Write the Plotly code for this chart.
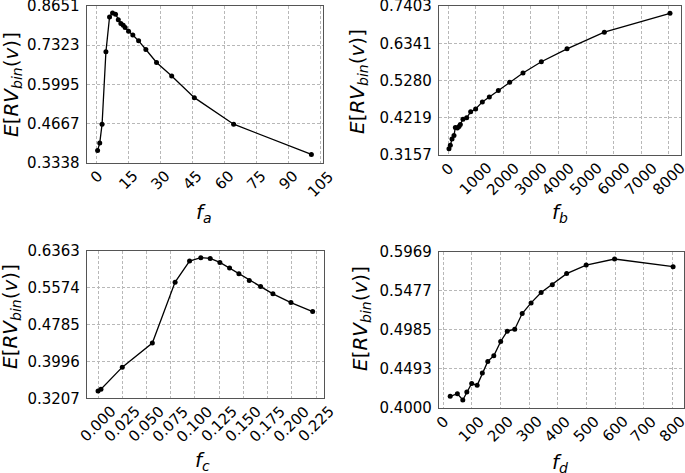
import plotly.graph_objects as go

# ---- data ----
fa = [0.5, 1.5, 2.6, 4.4, 6.1, 7.5, 8.9, 10.2, 11.4, 12.5, 13.4, 15.0, 17.0, 19.7, 23.1, 28.1, 35.2, 45.8, 64.2, 100.6]
ea = [0.3754, 0.4002, 0.4644, 0.7098, 0.8280, 0.8415, 0.8370, 0.8189, 0.8054, 0.7998, 0.7920, 0.7796, 0.7670, 0.7470, 0.7176, 0.6737, 0.6276, 0.5544, 0.4644, 0.3619]

fb = [36, 85, 145, 217, 266, 338, 399, 447, 543, 676, 821, 1002, 1244, 1498, 1824, 2234, 2717, 3382, 4312, 5664, 8043]
eb = [0.3337, 0.3431, 0.3611, 0.3715, 0.3942, 0.3923, 0.3970, 0.4027, 0.4178, 0.4216, 0.4386, 0.4471, 0.4670, 0.4812, 0.4992, 0.5228, 0.5493, 0.5814, 0.6183, 0.6656, 0.7195]

fc = [0.0, 0.003, 0.025, 0.056, 0.0795, 0.0944, 0.106, 0.1157, 0.1257, 0.1357, 0.1453, 0.156, 0.1677, 0.1804, 0.199, 0.2214]
ec = [0.3365, 0.3401, 0.3874, 0.4390, 0.5696, 0.6148, 0.6220, 0.6205, 0.6119, 0.5997, 0.5875, 0.5732, 0.5603, 0.5445, 0.5258, 0.5065]

fd = [25, 50, 69, 83, 100, 119, 137, 156, 177, 201, 224, 250, 276, 307, 342, 381, 431, 499, 598, 802]
ed = [0.4147, 0.4180, 0.4101, 0.4201, 0.4310, 0.4285, 0.4440, 0.4587, 0.4658, 0.4838, 0.4968, 0.4993, 0.5190, 0.5324, 0.5454, 0.5554, 0.5693, 0.5801, 0.5877, 0.5780]

yticks_a = [0.3338, 0.4667, 0.5995, 0.7323, 0.8651]
yticks_b = [0.3157, 0.4219, 0.5280, 0.6341, 0.7403]
yticks_c = [0.3207, 0.3996, 0.4785, 0.5574, 0.6363]
yticks_d = [0.4000, 0.4493, 0.4985, 0.5477, 0.5969]

xticks_a = [0, 15, 30, 45, 60, 75, 90, 105]
xticks_b = [0, 1000, 2000, 3000, 4000, 5000, 6000, 7000, 8000]
xticks_c = [0.000, 0.025, 0.050, 0.075, 0.100, 0.125, 0.150, 0.175, 0.200, 0.225]
xticks_d = [0, 100, 200, 300, 400, 500, 600, 700, 800]

xlabels = ["a", "b", "c", "d"]

W, H = 685, 473
FONT = "DejaVu Sans"
TICKSIZE = 15

panels = [
    # (x, y, xticks, xfmt, yticks, xrange, px-box (l, r, t, b))
    (fa, ea, xticks_a, "{:d}", yticks_a, [-4.6, 105.9], (86.7, 322.7, 6, 162.7)),
    (fb, eb, xticks_b, "{:d}", yticks_b, [-326, 8442], (439, 681, 6, 155)),
    (fc, ec, xticks_c, "{:.3f}", yticks_c, [-0.0114, 0.2331], (87, 324, 251, 398.3)),
    (fd, ed, xticks_d, "{:d}", yticks_d, [-14, 840], (439, 684, 251.7, 408)),
]

fig = go.Figure()
layout = {}
ann = []
for i, (xs, ys, xt, fmt, yt, xr, box) in enumerate(panels):
    n = "" if i == 0 else str(i + 1)
    l, r, t, b = box
    fig.add_trace(go.Scatter(
        x=xs, y=ys, mode="lines+markers",
        line=dict(color="black", width=1.3),
        marker=dict(color="black", size=5),
        xaxis="x" + n, yaxis="y" + n, showlegend=False, hoverinfo="skip",
    ))
    span = yt[-1] - yt[0]
    common = dict(
        showline=True, mirror=True, linecolor="#555555", linewidth=1.2,
        showgrid=True, gridcolor="#b8b8b8", gridwidth=0.8, griddash="3px,2px",
        zeroline=False, ticks="", automargin=False, ticklabeloverflow="allow",
        tickfont=dict(family=FONT, size=TICKSIZE, color="black"),
    )
    layout["xaxis" + n] = dict(
        common, domain=[l / W, r / W], anchor="y" + n, range=xr,
        tickmode="array", tickvals=xt, showticklabels=False,
    )
    layout["yaxis" + n] = dict(
        common, domain=[1 - b / H, 1 - t / H], anchor="x" + n,
        range=[yt[0] - span * 1e-4, yt[-1] + span * 1e-4],
        tickmode="array", tickvals=yt, ticktext=["{:.4f}".format(v) for v in yt],
        ticklabelstandoff=3,
    )
    # rotated x tick labels, centred on each tick like matplotlib's rotation=45
    for v in xt:
        ann.append(dict(text=fmt.format(v), x=v, xref="x" + n,
                        y=1 - (b + 3) / H, yref="paper",
                        showarrow=False, textangle=-45, xanchor="center", yanchor="top",
                        borderpad=0,
                        font=dict(family=FONT, size=TICKSIZE, color="black")))

ytitle = "<i>E</i>[<i>RV</i><sub><i>bin</i></sub>(<i>v</i>)]"
ytitle_pos = [(12, 85), (358, 82), (11, 317), (361, 318)]
xtitle_pos = [(204, 213), (560, 213), (202, 461), (560, 463)]
for (xp, yp), s in zip(ytitle_pos, xlabels):
    ann.append(dict(text=ytitle, x=xp / W, y=1 - yp / H, xref="paper", yref="paper",
                    showarrow=False, textangle=-90, xanchor="center", yanchor="middle",
                    font=dict(family=FONT, size=20, color="black")))
for (xp, yp), s in zip(xtitle_pos, xlabels):
    ann.append(dict(text="<i>f</i><sub><i>" + s + "</i></sub>", x=xp / W, y=1 - yp / H,
                    xref="paper", yref="paper", showarrow=False,
                    xanchor="center", yanchor="middle",
                    font=dict(family=FONT, size=20, color="black")))

fig.update_layout(
    width=W, height=H, margin=dict(l=0, r=0, t=0, b=0, autoexpand=False),
    paper_bgcolor="white", plot_bgcolor="white",
    font=dict(family=FONT, color="black"),
    annotations=ann, **layout,
)
fig.write_html(
    "out.html",
    config={"displayModeBar": False},
    post_script="document.body.style.margin='0';document.body.style.overflow='hidden';",
)
